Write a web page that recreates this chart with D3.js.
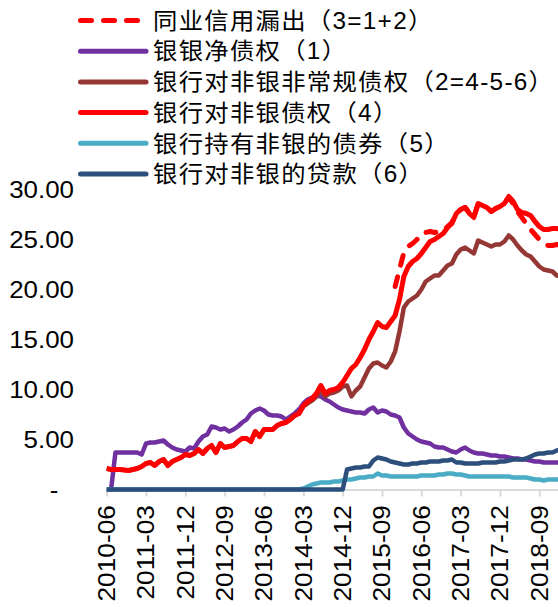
<!DOCTYPE html>
<html>
<head>
<meta charset="utf-8">
<script src="https://cdn.jsdelivr.net/npm/d3@7"></script>
<style>
  body { margin: 0; background: #ffffff; }
  svg { display: block; }
</style>
</head>
<body>
<svg id="chart" width="558" height="607"></svg>
<script>
// Monthly observations starting 2010-06
const monthCount = 105;
const months = d3.range(monthCount).map(i => d3.timeFormat("%Y-%m")(new Date(2010, 5 + i, 1)));

const xTickLabels = ["2010-06", "2011-03", "2011-12", "2012-09", "2013-06", "2014-03",
                     "2014-12", "2015-09", "2016-06", "2017-03", "2017-12", "2018-09"];
const yTickValues = [0, 5, 10, 15, 20, 25, 30];
const yTickLabels = ["-", "5.00", "10.00", "15.00", "20.00", "25.00", "30.00"];

// (3) 同业信用漏出 = (1) + (2), available from 2015-12
const leakage = [
  null, null, null, null, null, null, null, null, null, null,
  null, null, null, null, null, null, null, null, null, null,
  null, null, null, null, null, null, null, null, null, null,
  null, null, null, null, null, null, null, null, null, null,
  null, null, null, null, null, null, null, null, null, null,
  null, null, null, null, null, null, null, null, null, null,
  null, null, null, null, null, null,
  20.3, 22.0, 23.7, 24.3, 24.6, 25.0, 25.6, 25.7, 25.8, 25.7,
  25.8, 25.9, 26.3, 26.7, 27.6, 28.0, 28.2, 27.7, 27.3, 28.5,
  28.4, 28.2, 27.8, 28.1, 28.3, 28.6, 29.2, 28.6, 27.8, 27.2,
  26.6, 26.0, 25.5, 25.0, 24.7, 24.4, 24.4, 24.5, 24.4
];

// (1) 银银净债权
const interbankNet = [
  0, 0, 3.7, 3.7, 3.7, 3.7, 3.7, 3.7, 3.5, 4.6,
  4.7, 4.7, 4.8, 4.9, 4.5, 4.2, 4.0, 3.9, 3.8, 4.2,
  4.1, 4.8, 5.3, 5.5, 6.3, 6.2, 6.0, 6.1, 5.8, 6.0,
  6.3, 6.7, 7.0, 7.6, 7.9, 8.1, 7.9, 7.5, 7.4, 7.4,
  7.3, 7.0, 7.3, 7.6, 8.0, 8.6, 9.0, 9.2, 9.4, 9.3,
  9.0, 8.8, 8.5, 8.2, 8.0, 7.9, 7.8, 7.7, 7.7, 7.6,
  8.0, 8.2, 7.7, 7.9, 7.8, 7.5, 7.4, 7.2, 6.2, 5.6,
  5.3, 5.0, 4.8, 4.7, 4.6, 4.3, 4.2, 4.2, 4.0, 3.8,
  3.7, 4.0, 4.2, 3.9, 3.7, 3.6, 3.6, 3.5, 3.4, 3.4,
  3.3, 3.3, 3.2, 3.1, 3.1, 3.0, 3.0, 2.9, 2.8, 2.8,
  2.7, 2.7, 2.7, 2.7, 2.7
];

// (2) 银行对非银非常规债权 = (4) - (5) - (6)
const nonStandard = [
  2.1, 2.0, 2.0, 2.0, 1.95, 1.9, 2.0, 2.1, 2.3, 2.6,
  2.7, 2.4, 2.8, 3.0, 2.4, 2.8, 3.0, 3.2, 3.5, 3.4,
  3.6, 4.0, 3.6, 4.1, 4.4, 3.7, 4.6, 4.2, 4.3, 4.4,
  4.8, 5.1, 5.1, 4.8, 5.8, 5.3, 6.0, 6.0, 6.0, 6.4,
  6.6, 6.7, 7.0, 7.4, 7.6,
  8.3, 8.6, 8.9, 9.3, 10.0, 9.3, 9.6, 9.7, 9.9, 10.3,
  10.4, 9.3, 9.9, 10.3, 11.2, 12.1, 12.6, 12.7, 12.4, 12.2,
  12.8, 13.8, 15.8, 18.2, 18.8, 19.1, 19.4, 20.0, 20.8, 21.1,
  21.4, 21.4, 21.9, 22.4, 22.6, 23.5, 24.0, 24.2, 23.9, 23.6,
  24.9, 24.7, 24.5, 24.3, 24.5, 24.5, 24.8, 25.4, 25.0, 24.4,
  23.9, 23.5, 23.3, 22.8, 22.3, 22.0, 21.9, 21.8, 21.4, 21.3
];

// (4) 银行对非银债权
const claimsOnNonbank = [
  2.1, 2.0, 2.0, 2.0, 1.95, 1.9, 2.0, 2.1, 2.3, 2.6,
  2.7, 2.4, 2.8, 3.0, 2.4, 2.8, 3.0, 3.2, 3.5, 3.4,
  3.6, 4.0, 3.6, 4.1, 4.4, 3.7, 4.6, 4.2, 4.3, 4.4,
  4.8, 5.1, 5.1, 4.8, 5.8, 5.3, 6.0, 6.0, 6.0, 6.4,
  6.6, 6.7, 7.0, 7.4, 7.6, 8.4, 8.8, 9.1, 9.6, 10.4,
  9.6, 9.9, 10.0, 10.2, 10.7, 11.4, 12.1, 12.5, 13.2, 14.0,
  15.0, 15.8, 16.7, 16.3, 16.2, 16.8, 17.4, 19.0, 21.3, 22.3,
  22.8, 23.1, 23.6, 24.2, 24.8, 25.0, 25.3, 25.6, 26.2, 26.6,
  27.6, 28.0, 28.2, 27.6, 27.2, 28.6, 28.4, 28.2, 27.8, 28.1,
  28.3, 28.6, 29.3, 28.8, 28.0, 27.7, 27.6, 27.4, 26.8, 26.3,
  26.0, 26.0, 26.1, 26.1, 26.0
];

// (5) 银行持有非银的债券
const bondsHeld = [
  0, 0, 0, 0, 0, 0, 0, 0, 0, 0,
  0, 0, 0, 0, 0, 0, 0, 0, 0, 0,
  0, 0, 0, 0, 0, 0, 0, 0, 0, 0,
  0, 0, 0, 0, 0, 0, 0, 0, 0, 0,
  0, 0, 0, 0, 0,
  0.1, 0.3, 0.5, 0.6, 0.7, 0.7, 0.7, 0.8, 0.8, 0.9,
  1.0, 1.0, 1.1, 1.2, 1.2, 1.3, 1.3, 1.6, 1.4, 1.4,
  1.3, 1.3, 1.3, 1.3, 1.3, 1.3, 1.3, 1.4, 1.4, 1.4,
  1.4, 1.5, 1.5, 1.6, 1.6, 1.5, 1.5, 1.4, 1.3, 1.3,
  1.3, 1.3, 1.3, 1.3, 1.3, 1.3, 1.3, 1.3, 1.2, 1.2,
  1.2, 1.2, 1.1, 1.0, 1.0, 0.9, 1.0, 1.0, 1.0, 1.0
];

// (6) 银行对非银的贷款
const loans = [
  0, 0, 0, 0, 0, 0, 0, 0, 0, 0,
  0, 0, 0, 0, 0, 0, 0, 0, 0, 0,
  0, 0, 0, 0, 0, 0, 0, 0, 0, 0,
  0, 0, 0, 0, 0, 0, 0, 0, 0, 0,
  0, 0, 0, 0, 0, 0, 0, 0, 0, 0,
  0, 0, 0, 0, 0,
  2.0, 2.1, 2.2, 2.2, 2.3, 2.3, 2.9, 3.2, 3.1, 3.0,
  2.8, 2.7, 2.6, 2.5, 2.5, 2.6, 2.6, 2.7, 2.7, 2.8,
  2.8, 2.8, 2.9, 2.9, 3.0, 2.7, 2.7, 2.6, 2.6, 2.6,
  2.6, 2.7, 2.7, 2.7, 2.7, 2.8, 2.8, 2.9, 3.0, 3.0,
  3.0, 3.1, 3.3, 3.5, 3.6, 3.6, 3.7, 3.7, 3.9, 4.0
];

const seriesNames = [
  "同业信用漏出（3=1+2）",
  "银银净债权（1）",
  "银行对非银非常规债权（2=4-5-6）",
  "银行对非银债权（4）",
  "银行持有非银的债券（5）",
  "银行对非银的贷款（6）"
];
const seriesColors = ["#ff0000", "#7030a0", "#953735", "#ff0000", "#4bacc6", "#2c4f7c"];
const seriesValues = [leakage, interbankNet, nonStandard, claimsOnNonbank, bondsHeld, loans];
const seriesDashed = [true, false, false, false, false, false];

const svg = d3.select("#chart");
const fontLatin = "'Liberation Sans', Arial, sans-serif";
const fontMixed = "'Liberation Sans', 'Noto Sans CJK SC', sans-serif";

const step = 4.37;
const x = d3.scalePoint()
  .domain(months)
  .range([106.7, 106.7 + step * (monthCount - 1)]);

const y = d3.scaleLinear()
  .domain([0, 30])
  .range([489.5, 189.5]);

// Category axis along the zero line
const xAxis = svg.append("g")
  .attr("transform", `translate(0,${y(0)})`)
  .call(d3.axisBottom(x).tickValues(xTickLabels).tickSize(7).tickSizeOuter(0).tickFormat(""));
xAxis.select(".domain").attr("stroke", "#d9d9d9").attr("stroke-width", 2);
xAxis.selectAll(".tick line").attr("stroke", "#d9d9d9").attr("stroke-width", 2);

// Rotated month labels
svg.append("g")
  .selectAll("text")
  .data(xTickLabels)
  .join("text")
  .attr("transform", d => `translate(${x(d)},505) rotate(-90) scale(1.12,1)`)
  .attr("text-anchor", "end")
  .attr("dy", "0.35em")
  .attr("font-family", fontLatin)
  .attr("font-size", 23.5)
  .attr("fill", "#000")
  .text(d => d);

// Value axis labels
const yAxis = svg.append("g")
  .attr("transform", "translate(74,0)")
  .call(d3.axisLeft(y).tickValues(yTickValues).tickSize(0).tickPadding(0)
    .tickFormat((d, i) => yTickLabels[i]));
yAxis.select(".domain").remove();
yAxis.selectAll("text")
  .attr("font-family", fontLatin)
  .attr("font-size", 24)
  .attr("fill", "#000")
  .attr("transform", "scale(1.08,1)")
  .attr("dx", (d, i) => yTickLabels[i] === "-" ? "-0.6em" : 0);

// Series lines
const line = d3.line()
  .defined(d => d.v !== null)
  .x(d => x(d.m))
  .y(d => y(d.v));

const plot = svg.append("g");
seriesValues.forEach((vals, s) => {
  const pts = vals.map((v, i) => ({ m: months[i], v: v }));
  plot.append("path")
    .datum(pts)
    .attr("fill", "none")
    .attr("stroke", seriesColors[s])
    .attr("stroke-width", s === 3 || s === 0 ? 5 : 4.5)
    .attr("stroke-linejoin", "round")
    .attr("stroke-linecap", seriesDashed[s] ? "round" : "butt")
    .attr("stroke-dasharray", seriesDashed[s] ? "10,12" : null)
    .attr("d", line);
});

// Legend
const legend = svg.append("g");
const legendY = d3.scaleLinear().domain([0, 5]).range([20.5, 174]);
seriesNames.forEach((name, s) => {
  const cy = legendY(s);
  legend.append("line")
    .attr("x1", 80.5).attr("x2", 146)
    .attr("y1", cy).attr("y2", cy)
    .attr("stroke", seriesColors[s])
    .attr("stroke-width", 5)
    .attr("stroke-linecap", "round")
    .attr("stroke-dasharray", seriesDashed[s] ? "11,12" : null);
  legend.append("text")
    .attr("transform", `translate(153,${cy}) scale(1.06,1)`)
    .attr("dy", "0.36em")
    .attr("font-family", fontMixed)
    .attr("font-size", 23)
    .attr("letter-spacing", 1.2)
    .attr("fill", "#000")
    .text(name);
});
</script>
</body>
</html>
